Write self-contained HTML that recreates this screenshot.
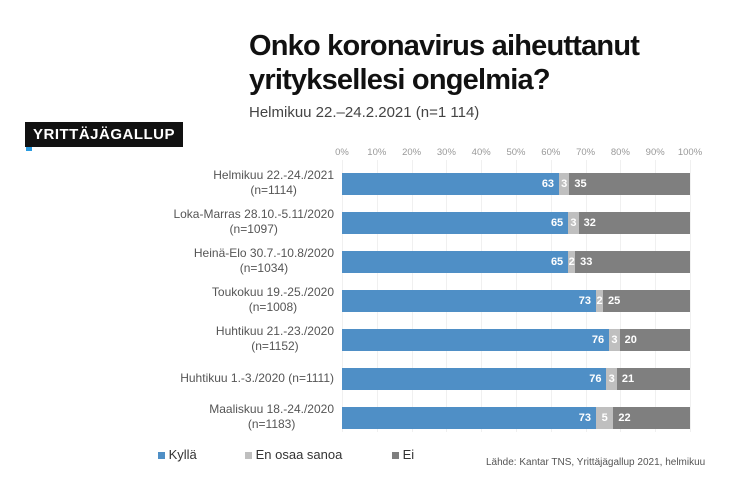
<!DOCTYPE html>
<html><head><meta charset="utf-8"><style>
body{margin:0;width:740px;height:493px;background:#fff;position:relative;overflow:hidden;font-family:"Liberation Sans",sans-serif}
.a{position:absolute}
.t{left:249px;font-weight:bold;font-size:29px;color:#111;letter-spacing:-0.8px}
.lab{right:406px;width:260px;text-align:right;font-size:12px;color:#555;line-height:15px}
.lab span{display:inline-block;text-align:center}
.bar{position:absolute;height:22px;display:flex;font-size:11px;color:#fff;font-weight:bold}
.bar div{height:100%;display:flex;align-items:center;justify-content:flex-end;box-sizing:border-box}
.k{background:#4f8fc6;padding-right:5px}.e{background:#bfbfbf;justify-content:center!important}.i{background:#7f7f7f;justify-content:flex-start!important;padding-left:5px}
.tick{top:147px;font-size:9.5px;color:#999;width:40px;text-align:center}
.grid{top:160px;height:272px;width:1px;background:#f0f0f0}
</style></head><body>
<div class="a t" style="top:30px">Onko koronavirus aiheuttanut</div>
<div class="a t" style="top:64px">yrityksellesi ongelmia?</div>
<div class="a" style="left:249px;top:104px;font-size:15px;color:#444">Helmikuu 22.–24.2.2021 (n=1 114)</div>
<div class="a" style="left:26px;top:145px;width:6px;height:6px;background:#2a9be0"></div>
<div class="a" style="left:25px;top:122px;width:158px;height:25px;background:#111;color:#fff;font-weight:bold;font-size:15px;line-height:25px;text-align:center;letter-spacing:0.5px">YRITTÄJÄGALLUP</div>
<div id="g"></div>
<div class="a" style="left:158px;top:447px;font-size:13px;color:#333"><span style="display:inline-block;width:7px;height:7px;background:#4f8fc6"></span> Kyllä</div>
<div class="a" style="left:245px;top:447px;font-size:13px;color:#333"><span style="display:inline-block;width:7px;height:7px;background:#bfbfbf"></span> En osaa sanoa</div>
<div class="a" style="left:392px;top:447px;font-size:13px;color:#333"><span style="display:inline-block;width:7px;height:7px;background:#7f7f7f"></span> Ei</div>
<div class="a" style="left:486px;top:457px;font-size:10px;color:#555">Lähde: Kantar TNS, Yrittäjägallup 2021, helmikuu</div>
<script>
var d=[["Helmikuu 22.-24./2021<br>(n=1114)",63,3,35],["Loka-Marras 28.10.-5.11/2020<br>(n=1097)",65,3,32],["Heinä-Elo 30.7.-10.8/2020<br>(n=1034)",65,2,33],["Toukokuu 19.-25./2020<br>(n=1008)",73,2,25],["Huhtikuu 21.-23./2020<br>(n=1152)",76,3,20],["Huhtikuu 1.-3./2020 (n=1111)",76,3,21],["Maaliskuu 18.-24./2020<br>(n=1183)",73,5,22]];
var h="",x0=342,W=348;
for(var i=0;i<=10;i++){var x=x0+W*i/10;h+='<div class="a grid" style="left:'+x+'px"></div><div class="a tick" style="left:'+(x-20)+'px">'+(i*10)+'%</div>';}
d.forEach(function(r,j){var c=184+39*j,tot=r[1]+r[2]+r[3];
var two=r[0].indexOf("<br>")>0;
h+='<div class="a lab" style="top:'+(c-(two?16:8))+'px"><span>'+r[0]+'</span></div>';
h+='<div class="bar" style="left:'+x0+'px;top:'+(c-11)+'px;width:'+W+'px">';
h+='<div class="k" style="width:'+(W*r[1]/tot)+'px">'+r[1]+'</div><div class="e" style="width:'+(W*r[2]/tot)+'px">'+r[2]+'</div><div class="i" style="width:'+(W*r[3]/tot)+'px">'+r[3]+'</div></div>';});
document.getElementById("g").innerHTML=h;
</script>
</body></html>
